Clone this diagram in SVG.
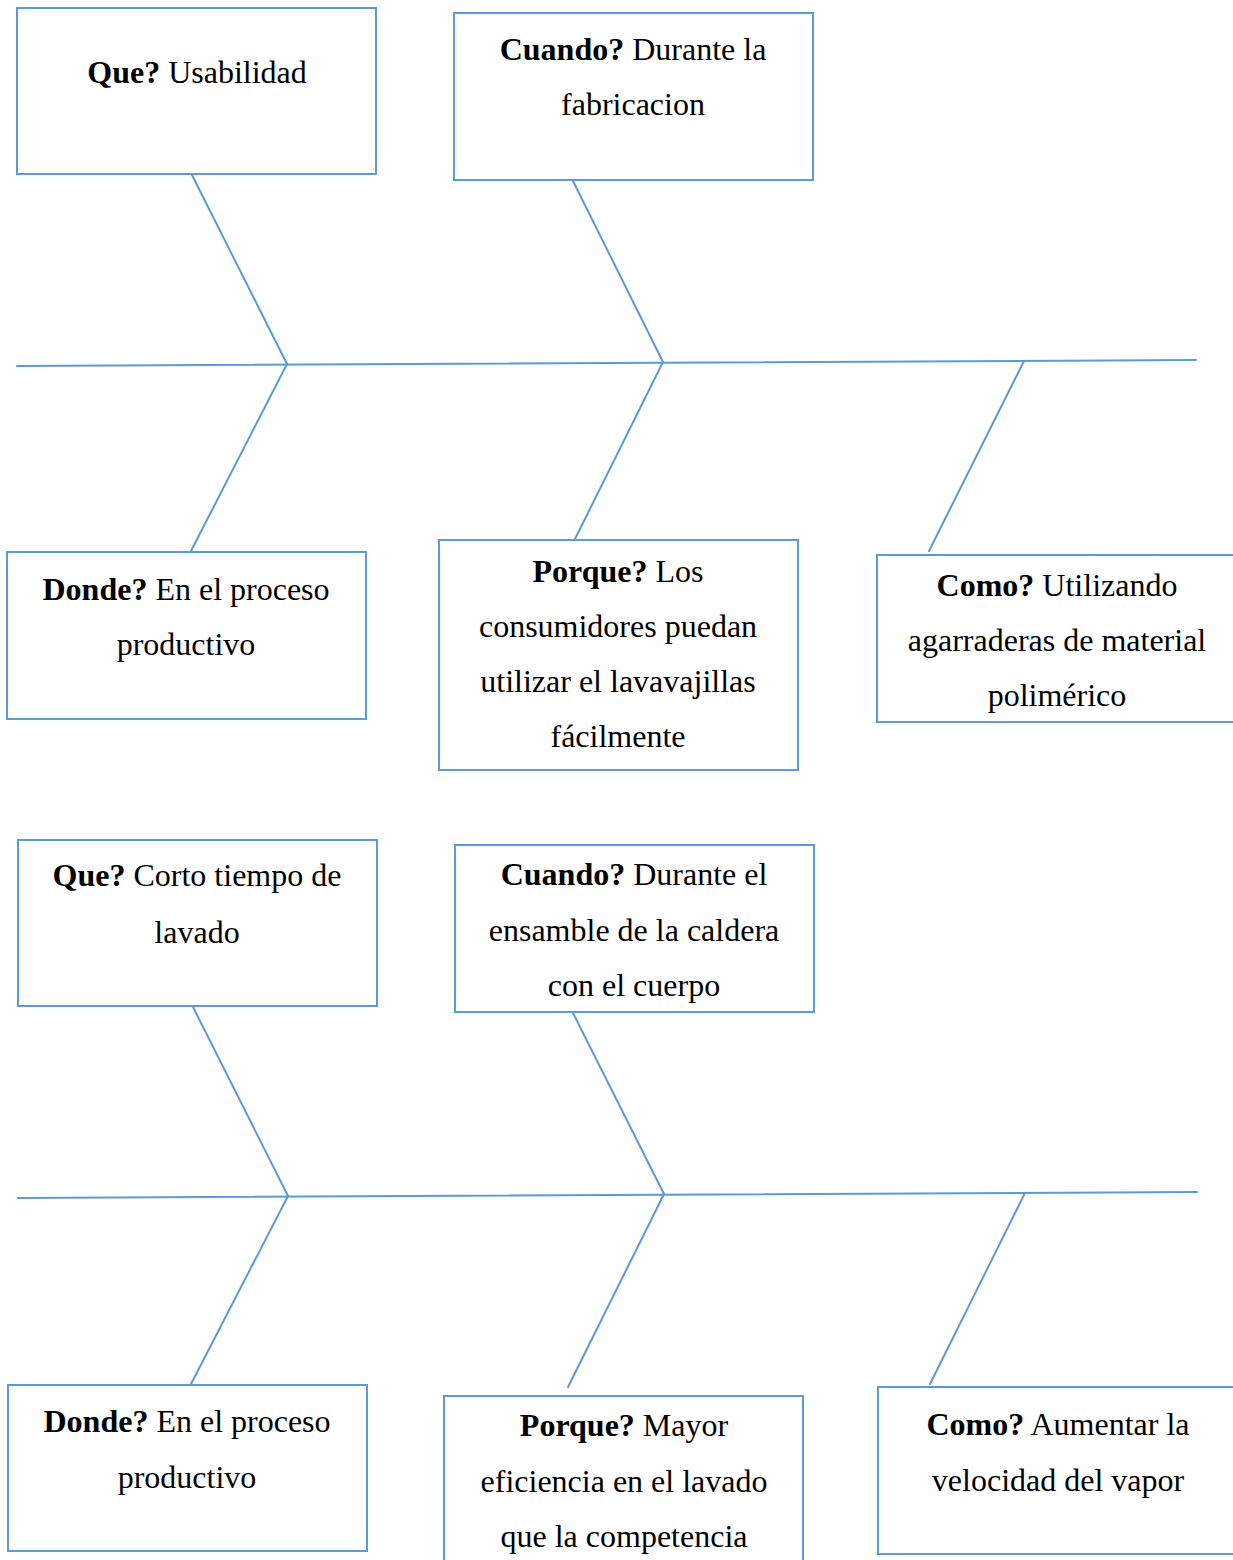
<svg xmlns="http://www.w3.org/2000/svg" width="1233" height="1560" viewBox="0 0 1233 1560">
  <style>
    .box { fill: #ffffff; stroke: #5b9bd5; stroke-width: 2; }
    .bone { fill: none; stroke: #5b9bd5; stroke-width: 2; stroke-linecap: round; }
    text { font-family: "Liberation Serif", "Times New Roman", serif; font-size: 32px; fill: #000000; text-anchor: middle; }
    .b { font-weight: bold; }
  </style>
  <rect width="1233" height="1560" fill="#ffffff"/>

  <!-- spines and ribs -->
  <g id="connectors">
    <!-- first diagram -->
    <line class="bone" x1="17" y1="366" x2="1196" y2="360"/>
    <line class="bone" x1="192" y1="175" x2="287" y2="364"/>
    <line class="bone" x1="287" y1="364" x2="191" y2="551"/>
    <line class="bone" x1="573" y1="181" x2="663" y2="362"/>
    <line class="bone" x1="663" y1="362" x2="575" y2="539"/>
    <line class="bone" x1="1024" y1="361" x2="929" y2="551"/>
    <!-- second diagram -->
    <line class="bone" x1="18" y1="1198" x2="1197" y2="1192"/>
    <line class="bone" x1="193" y1="1007" x2="288" y2="1196"/>
    <line class="bone" x1="288" y1="1196" x2="191" y2="1384"/>
    <line class="bone" x1="573" y1="1013" x2="664" y2="1194"/>
    <line class="bone" x1="664" y1="1194" x2="568" y2="1387"/>
    <line class="bone" x1="1025" y1="1193" x2="930" y2="1384"/>
  </g>

  <!-- first diagram nodes -->
  <g id="que1">
    <rect class="box" x="17" y="8" width="359" height="166"/>
    <text x="197" y="83"><tspan class="b">Que?</tspan> Usabilidad</text>
  </g>
  <g id="cuando1">
    <rect class="box" x="454" y="13" width="359" height="167"/>
    <text x="633" y="60"><tspan class="b">Cuando?</tspan> Durante la</text>
    <text x="633" y="115">fabricacion</text>
  </g>
  <g id="donde1">
    <rect class="box" x="7" y="552" width="359" height="167"/>
    <text x="186" y="600"><tspan class="b">Donde?</tspan> En el proceso</text>
    <text x="186" y="655">productivo</text>
  </g>
  <g id="porque1">
    <rect class="box" x="439" y="540" width="359" height="230"/>
    <text x="618" y="582"><tspan class="b">Porque?</tspan> Los</text>
    <text x="618" y="637">consumidores puedan</text>
    <text x="618" y="692">utilizar el lavavajillas</text>
    <text x="618" y="747">fácilmente</text>
  </g>
  <g id="como1">
    <rect class="box" x="877" y="555" width="362" height="167"/>
    <text x="1057" y="596"><tspan class="b">Como?</tspan> Utilizando</text>
    <text x="1057" y="651">agarraderas de material</text>
    <text x="1057" y="706">polimérico</text>
  </g>

  <!-- second diagram nodes -->
  <g id="que2">
    <rect class="box" x="18" y="840" width="359" height="166"/>
    <text x="197" y="886"><tspan class="b">Que?</tspan> Corto tiempo de</text>
    <text x="197" y="943">lavado</text>
  </g>
  <g id="cuando2">
    <rect class="box" x="455" y="845" width="359" height="167"/>
    <text x="634" y="885"><tspan class="b">Cuando?</tspan> Durante el</text>
    <text x="634" y="941">ensamble de la caldera</text>
    <text x="634" y="996">con el cuerpo</text>
  </g>
  <g id="donde2">
    <rect class="box" x="8" y="1385" width="359" height="166"/>
    <text x="187" y="1432"><tspan class="b">Donde?</tspan> En el proceso</text>
    <text x="187" y="1488">productivo</text>
  </g>
  <g id="porque2">
    <rect class="box" x="444" y="1396" width="359" height="170"/>
    <text x="624" y="1436"><tspan class="b">Porque?</tspan> Mayor</text>
    <text x="624" y="1492">eficiencia en el lavado</text>
    <text x="624" y="1547">que la competencia</text>
  </g>
  <g id="como2">
    <rect class="box" x="878" y="1387" width="361" height="167"/>
    <text x="1058" y="1435"><tspan class="b">Como?</tspan> Aumentar la</text>
    <text x="1058" y="1491">velocidad del vapor</text>
  </g>
</svg>
